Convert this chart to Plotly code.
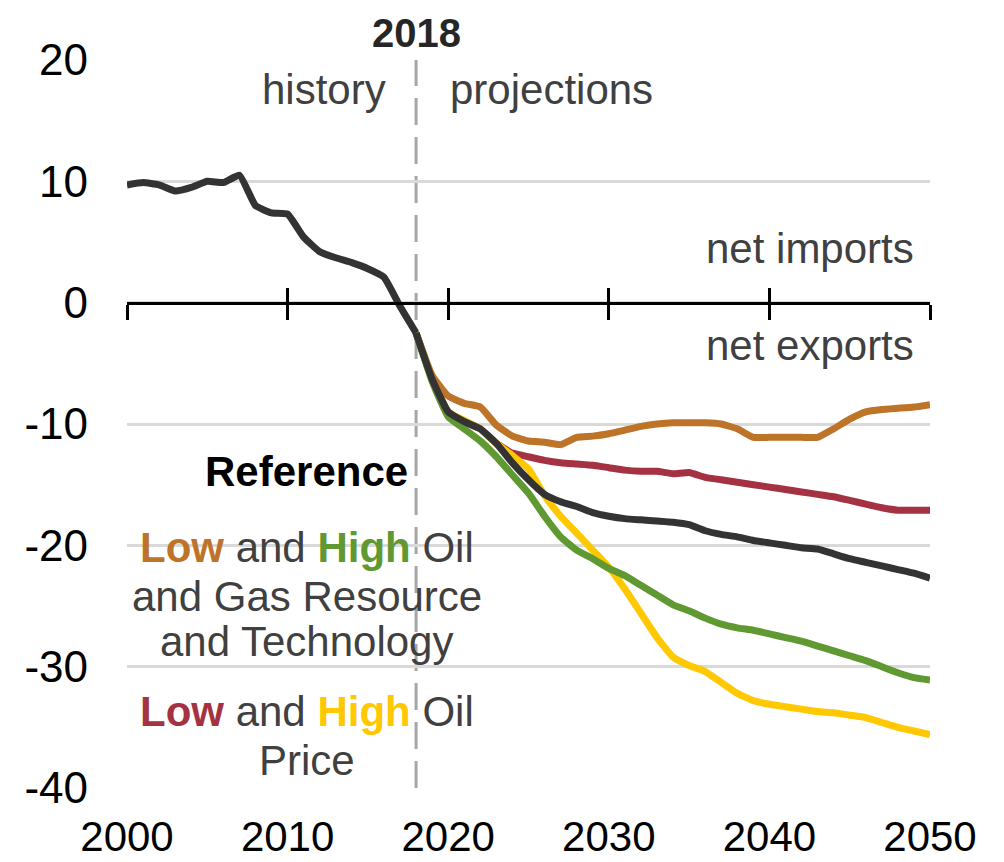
import plotly.graph_objects as go

# ---- data ----
hist_years = list(range(2000, 2019))
ref_hist = [9.7, 9.9, 9.7, 9.2, 9.5, 10.0, 9.9, 10.5, 8.0, 7.4, 7.3, 5.4, 4.2, 3.7,
            3.3, 2.8, 2.1, -0.3, -2.5]

proj_years = list(range(2018, 2051))
ref_proj = [-2.5, -6.3, -9.0, -9.8, -10.4, -11.6, -13.2, -14.6, -15.8, -16.4, -16.8,
            -17.3, -17.6, -17.8, -17.9, -18.0, -18.1, -18.3, -18.8, -19.1, -19.3,
            -19.6, -19.8, -20.0, -20.2, -20.3, -20.7, -21.1, -21.4, -21.7, -22.0,
            -22.3, -22.7]
low_resource = [-2.5, -6.0, -7.7, -8.3, -8.6, -10.1, -11.0, -11.4, -11.5, -11.7, -11.1,
                -11.0, -10.8, -10.5, -10.2, -10.0, -9.9, -9.9, -9.9, -10.0, -10.4,
                -11.1, -11.1, -11.1, -11.1, -11.1, -10.4, -9.6, -9.0, -8.8, -8.7,
                -8.6, -8.4]
high_resource = [-2.5, -6.5, -9.4, -10.4, -11.4, -12.7, -14.2, -15.7, -17.6, -19.3,
                 -20.4, -21.1, -21.9, -22.5, -23.3, -24.1, -24.9, -25.4, -26.0, -26.5,
                 -26.8, -27.0, -27.3, -27.6, -27.9, -28.3, -28.7, -29.1, -29.5, -30.0,
                 -30.5, -30.9, -31.1]
low_price = [-2.5, -6.3, -9.0, -9.8, -10.4, -11.6, -12.4, -12.7, -13.0, -13.2, -13.3,
             -13.4, -13.6, -13.8, -13.9, -13.9, -14.1, -14.0, -14.4, -14.6, -14.8,
             -15.0, -15.2, -15.4, -15.6, -15.8, -16.0, -16.3, -16.6, -16.9, -17.1,
             -17.1, -17.1]
high_price = [-2.5, -6.3, -9.0, -9.7, -10.4, -11.6, -12.6, -13.7, -15.9, -17.6, -19.0,
              -20.4, -21.8, -23.6, -25.6, -27.6, -29.2, -29.9, -30.4, -31.3, -32.2,
              -32.8, -33.1, -33.3, -33.5, -33.7, -33.8, -34.0, -34.2, -34.6, -35.0,
              -35.3, -35.6]

x_ticks = [2000, 2010, 2020, 2030, 2040, 2050]
x_labels = ["2000", "2010", "2020", "2030", "2040", "2050"]
y_ticks = [-40, -30, -20, -10, 0, 10, 20]
y_labels = ["-40", "-30", "-20", "-10", "0", "10", "20"]
split_year = 2018

C_REF = "#333333"
C_LOWRES = "#BE7428"
C_HIGHRES = "#609832"
C_LOWPRICE = "#A43242"
C_HIGHPRICE = "#FFC800"
TXT = "#404040"
LW = 7

fig = go.Figure()

def add_line(x, y, color):
    fig.add_trace(go.Scatter(x=x, y=y, mode="lines",
                             line=dict(color=color, width=LW, shape="spline", smoothing=0.4),
                             showlegend=False, hoverinfo="skip"))

add_line(proj_years, low_resource, C_LOWRES)
add_line(proj_years, low_price, C_LOWPRICE)
add_line(proj_years, high_price, C_HIGHPRICE)
add_line(proj_years, high_resource, C_HIGHRES)
add_line(proj_years, ref_proj, C_REF)
add_line(hist_years, ref_hist, C_REF)

# helper traces so the y=0 axis (x2: downward ticks, x3: upward ticks) is drawn
for ax in ("x2", "x3"):
    fig.add_trace(go.Scatter(x=[x_ticks[0], x_ticks[-1]], y=[0, 0], xaxis=ax, yaxis="y",
                             mode="markers", marker=dict(opacity=0), showlegend=False,
                             hoverinfo="skip"))

zero_pos = (0 - y_ticks[0]) / (y_ticks[-1] - y_ticks[0])

sans = "Arial, Liberation Sans, sans-serif"

fig.update_layout(
    width=1004, height=862,
    margin=dict(l=119, r=82, t=52, b=82),
    plot_bgcolor="white", paper_bgcolor="white",
    showlegend=False,
    xaxis=dict(range=[x_ticks[0], x_ticks[-1]], tickvals=x_ticks, ticktext=x_labels,
               showgrid=False, zeroline=False, showline=False, ticks="",
               tickfont=dict(family=sans, size=42, color="black"),
               ticklabelstandoff=20, automargin=False),
    xaxis2=dict(range=[x_ticks[0], x_ticks[-1]], tickvals=x_ticks, overlaying="x",
                anchor="free", position=zero_pos, showgrid=False, zeroline=False,
                showline=True, linecolor="black", linewidth=3, ticks="outside",
                ticklen=15, tickwidth=3, tickcolor="black", showticklabels=False,
                automargin=False),
    xaxis3=dict(range=[x_ticks[0], x_ticks[-1]], tickvals=x_ticks, overlaying="x",
                anchor="free", position=zero_pos, showgrid=False, zeroline=False,
                showline=False, ticks="inside",
                ticklen=15, tickwidth=3, tickcolor="black", showticklabels=False,
                automargin=False),
    yaxis=dict(range=[y_ticks[0], y_ticks[-1]], tickvals=y_ticks, ticktext=y_labels,
               showgrid=True, gridcolor="#d9d9d9", gridwidth=2.5, zeroline=False,
               showline=False, ticks="",
               tickfont=dict(family=sans, size=44, color="black"),
               ticklabelstandoff=38, automargin=False),
)

fig.add_shape(type="line", x0=split_year, x1=split_year, xref="x", yref="paper",
              y0=0, y1=1, line=dict(color="#a6a6a6", width=3, dash="27px,12px"),
              layer="between")

def ann(text, x, y, xanchor="center", size=42, color=TXT, xref="x", yref="y",
        yanchor="middle"):
    fig.add_annotation(text=text, x=x, y=y, xref=xref, yref=yref, xanchor=xanchor,
                       yanchor=yanchor, showarrow=False,
                       font=dict(family=sans, size=size, color=color))

ann("<b>2018</b>", split_year, 1.004, yref="paper", color="#262626", size=40,
    yanchor="bottom")
ann("history", 2016.25, 17.6, xanchor="right")
ann("projections", 2020.0, 17.6, xanchor="left")
ann("net imports", 2049.1, 4.5, xanchor="right")
ann("net exports", 2049.1, -3.5, xanchor="right")

cx = 2011.2
ann("<b>Reference</b>", cx, -13.9, color="black")
ann(f"<b><span style='color:{C_LOWRES}'>Low</span></b> and "
    f"<b><span style='color:{C_HIGHRES}'>High</span></b> Oil", cx, -20.2)
ann("and Gas Resource", cx, -24.2)
ann("and Technology", cx, -27.9)
ann(f"<b><span style='color:{C_LOWPRICE}'>Low</span></b> and "
    f"<b><span style='color:{C_HIGHPRICE}'>High</span></b> Oil", cx, -33.7)
ann("Price", cx, -37.7)

fig.write_html("out.html")
